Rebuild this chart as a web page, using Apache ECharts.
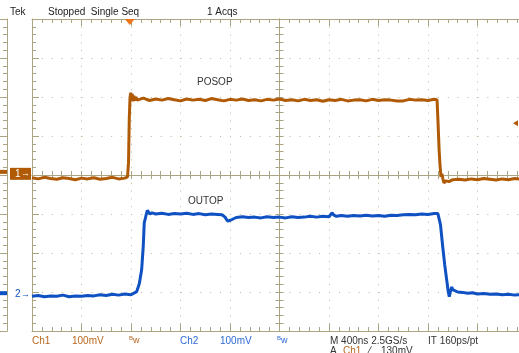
<!DOCTYPE html>
<html>
<head>
<meta charset="utf-8">
<script src="https://cdn.jsdelivr.net/npm/echarts@6/dist/echarts.min.js"></script>
<style>
html, body { margin: 0; padding: 0; background: #fff; }
#scope { width: 519px; height: 353px; }
</style>
</head>
<body>
<div id="scope"></div>
<script>
// time in ns, amplitude in mV (relative to each channel's ground marker)
var ch1Time = [
    -2000, -1950, -1900, -1850, -1800, -1750, -1700, -1650, -1600, -1550, -1500, -1450, -1400, -1350, -1300, -1250, -1228,
    -1220, -1214, -1208, -1202, -1196, -1190, -1184, -1177, -1170, -1160, -1150,
    -1100, -1050, -1000, -950, -900, -850, -800, -750, -700, -650, -600, -550, -500, -450, -400, -350, -300, -250, -200, -150,
    -100, -50, 0, 50, 100, 150, 200, 250, 300, 350, 400, 450, 500, 550, 600, 650, 700, 750, 800, 850, 900, 950,
    1000, 1050, 1100, 1150, 1200, 1250,
    1273, 1280, 1290, 1297, 1305, 1312, 1320, 1329, 1346, 1370, 1400,
    1450, 1500, 1550, 1600, 1650, 1700, 1750, 1800, 1850, 1900, 1950
];
var ch1Volt = [
    -10, -13, -9, -12, -14, -10, -12, -15, -11, -13, -10, -14, -12, -9, -13, -11, -8,
    30, 140, 195, 208, 190, 205, 186, 200, 188, 197, 189,
    194, 188, 192, 189, 193, 190, 187, 192, 189, 191, 188, 193, 190, 187, 191, 189, 192, 188, 190, 187,
    191, 189, 192, 188, 190, 187, 191, 188, 190, 186, 190, 188, 191, 187, 189, 190, 187, 191, 188, 190, 189, 187,
    187, 191, 189, 190, 188, 191,
    190, 140, 60, 23, -8, 0, -12, -23, -18, -20, -15,
    -14, -16, -13, -15, -12, -14, -16, -13, -15, -12, -14
];
var ch2Time = [
    -2000, -1950, -1900, -1850, -1800, -1750, -1700, -1650, -1600, -1550, -1500, -1450, -1400, -1350, -1300, -1250, -1200,
    -1184, -1154, -1133, -1114, -1101, -1093, -1081, -1068, -1058, -1047, -1030,
    -1000, -950, -900, -850, -800, -750, -700, -650, -600, -550, -500,
    -465, -440, -420, -408, -396, -384, -350,
    -300, -250, -200, -150, -100, -50, 0, 50, 100, 150, 200, 250, 300, 350, 400,
    424, 440, 460,
    500, 550, 600, 650, 700, 750, 800, 850, 900, 950, 1000, 1050, 1100, 1150, 1200, 1250,
    1280, 1289, 1301, 1319, 1335, 1351, 1364, 1372, 1382, 1392, 1400, 1410, 1440, 1480, 1520, 1560,
    1600, 1650, 1700, 1750, 1800, 1850, 1900, 1950
];
var ch2Volt = [
    -5, -3, -6, -4, -5, -2, -6, -4, -5, -3, -4, -1, -3, 0, -2, 1, -1,
    1, 7, 27, 63, 123, 183, 199, 215, 210, 206, 209,
    206, 208, 205, 207, 206, 208, 205, 207, 204, 206, 205,
    204, 198, 188, 185, 190, 194, 197,
    199, 197, 198, 196, 199, 197, 198, 196, 199, 197, 198, 200, 198, 200, 199,
    209, 203, 200,
    202, 200, 202, 201, 203, 201, 202, 200, 203, 202, 204, 205, 204, 206, 205, 207,
    207, 204, 178, 122, 76, 37, 6, -6, 8, 19, 12, 9, 6, 5, 3, 4,
    1, 2, 0, 1, -1, 0, -2, -1
];
// leftover trace ends visible at the left edge (previous screen), in divisions
var stubTime = [1940, 2000];
var stubCh1 = [0.08, 0.08];
var stubCh2 = [-3.03, -3.03];

var ch1Pos = 0.03;      // divisions
var ch2Pos = -3.06;
var mvPerDiv = 100;
var trigTime = -1210;   // ns
var trigLevel = 130;    // mV on Ch1

var ORANGE = '#B05A06';
var BLUE = '#0F50C2';
var GRAT = '#ABA482';
var DOTS = '#BDB690';

var chart = echarts.init(document.getElementById('scope'));

function toDiv(times, volts, pos) {
    var out = [];
    for (var i = 0; i < times.length; i++) {
        out.push([times[i], pos + volts[i] / mvPerDiv]);
    }
    return out;
}
function pairs(times, vals) {
    var out = [];
    for (var i = 0; i < times.length; i++) out.push([times[i], vals[i]]);
    return out;
}

var rect = { left: 32, top: 19, width: 495, height: 312, outerBoundsMode: 'none' };
function grid(extra) { return Object.assign({}, rect, extra || {}); }

function xAx(gridIndex, position, o) {
    o = o || {};
    return {
        type: 'value', gridIndex: gridIndex, position: position,
        min: -2000, max: 2000, interval: 400,
        axisLine: { show: true, onZero: !!o.onZero, lineStyle: { color: GRAT, width: 1 } },
        axisTick: { show: o.tick !== false, inside: o.inside !== false, length: o.len || 7, lineStyle: { color: GRAT } },
        minorTick: { show: o.tick !== false, splitNumber: 5, length: o.minLen || 4, lineStyle: { color: GRAT } },
        axisLabel: { show: false },
        splitLine: o.split ? { show: true, lineStyle: { color: DOTS, width: 1, type: [1, 6.8], dashOffset: 0 } } : { show: false }
    };
}
function yAx(gridIndex, position, o) {
    o = o || {};
    return {
        type: 'value', gridIndex: gridIndex, position: position,
        min: -4, max: 4, interval: 1,
        axisLine: { show: true, onZero: !!o.onZero, lineStyle: { color: GRAT, width: 1 } },
        axisTick: { show: o.tick !== false, inside: o.inside !== false, length: o.len || 7, lineStyle: { color: GRAT } },
        minorTick: { show: o.tick !== false, splitNumber: 5, length: o.minLen || 4, lineStyle: { color: GRAT } },
        axisLabel: { show: false },
        splitLine: o.split ? { show: true, lineStyle: { color: DOTS, width: 1, type: [1, 8.9], dashOffset: 0 } } : { show: false }
    };
}

chart.setOption({
    animation: false,
    backgroundColor: '#fff',
    grid: [
        grid(), grid(), grid(), grid(),
        { left: -488, top: 19, width: 495, height: 312, outerBoundsMode: 'none' }
    ],
    xAxis: [
        xAx(0, 'bottom', { split: true }),
        xAx(1, 'top'),
        xAx(2, 'bottom', { onZero: true, inside: true, len: 4, minLen: 4 }),
        xAx(3, 'bottom', { onZero: true, inside: false, len: 4, minLen: 4 }),
        xAx(4, 'top', { tick: false }),
        xAx(4, 'bottom', { tick: false })
    ],
    yAxis: [
        yAx(0, 'left', { split: true }),
        yAx(1, 'right'),
        yAx(2, 'left', { onZero: true, inside: true, len: 4, minLen: 4 }),
        yAx(3, 'left', { onZero: true, inside: false, len: 4, minLen: 4 }),
        yAx(4, 'right')
    ],
    series: [
        {
            name: 'Ch1', type: 'line', xAxisIndex: 0, yAxisIndex: 0, z: 5,
            data: toDiv(ch1Time, ch1Volt, ch1Pos),
            showSymbol: false, lineStyle: { color: ORANGE, width: 3 }
        },
        {
            name: 'Ch2', type: 'line', xAxisIndex: 0, yAxisIndex: 0, z: 5,
            data: toDiv(ch2Time, ch2Volt, ch2Pos),
            showSymbol: false, lineStyle: { color: BLUE, width: 3 }
        },
        {
            type: 'line', xAxisIndex: 4, yAxisIndex: 4, data: pairs(stubTime, stubCh1),
            showSymbol: false, lineStyle: { color: ORANGE, width: 4 }
        },
        {
            type: 'line', xAxisIndex: 4, yAxisIndex: 4, data: pairs(stubTime, stubCh2),
            showSymbol: false, lineStyle: { color: BLUE, width: 4 }
        }
    ]
});

// markers, read-outs
var FONT = 'Liberation Sans';
function txt(s, x, y, color, size) {
    return { type: 'text', z: 20, style: { text: s, x: x, y: y, fill: color, fontSize: size || 10, fontFamily: FONT, verticalAlign: 'middle' } };
}
var p1 = chart.convertToPixel({ gridIndex: 0 }, [-2000, ch1Pos]);
var p2 = chart.convertToPixel({ gridIndex: 0 }, [-2000, ch2Pos]);
var pt = chart.convertToPixel({ gridIndex: 0 }, [trigTime, 4]);
var pl = chart.convertToPixel({ gridIndex: 0 }, [2000, ch1Pos + trigLevel / mvPerDiv]);

var g = [
    { type: 'rect', z: 20, shape: { x: p1[0] - 22, y: p1[1] - 6, width: 21, height: 12 }, style: { fill: ORANGE } },
    txt('1', p1[0] - 17, p1[1], '#fff', 10),
    txt('\u2192', p1[0] - 11, p1[1], '#fff', 9),
    txt('2', p2[0] - 17, p2[1], BLUE, 10),
    txt('\u2192', p2[0] - 11, p2[1], BLUE, 9),
    { type: 'polygon', z: 20, shape: { points: [[pt[0] - 5, pt[1]], [pt[0] + 5, pt[1]], [pt[0], pt[1] + 6]] }, style: { fill: '#EE7418' } },
    { type: 'polygon', z: 20, shape: { points: [[513, pl[1]], [518, pl[1] - 3], [518, pl[1] + 3]] }, style: { fill: ORANGE } },
    txt('Tek', 10, 12, '#222'),
    txt('Stopped  Single Seq', 48, 12, '#222'),
    txt('1 Acqs', 207, 12, '#222'),
    txt('POSOP', 197, 82, '#333'),
    txt('OUTOP', 188, 201, '#333'),
    txt('Ch1', 32, 341, '#B8661E'),
    txt('100mV', 72, 341, '#B8661E'),
    txt('B', 129, 338, '#B8661E', 6),
    txt('w', 133, 341, '#B8661E', 9),
    txt('Ch2', 180, 341, '#2E6AD4'),
    txt('100mV', 220, 341, '#2E6AD4'),
    txt('B', 277, 338, '#2E6AD4', 6),
    txt('w', 281, 341, '#2E6AD4', 9),
    txt('M 400ns 2.5GS/s', 330, 341, '#333'),
    txt('IT 160ps/pt', 428, 341, '#333'),
    txt('A', 330, 351, '#333'),
    txt('Ch1', 343, 351, '#B8661E'),
    txt('\u2044', 369, 351, '#333'),
    txt('130mV', 381, 351, '#333')
];
chart.setOption({ graphic: g });
</script>
</body>
</html>
